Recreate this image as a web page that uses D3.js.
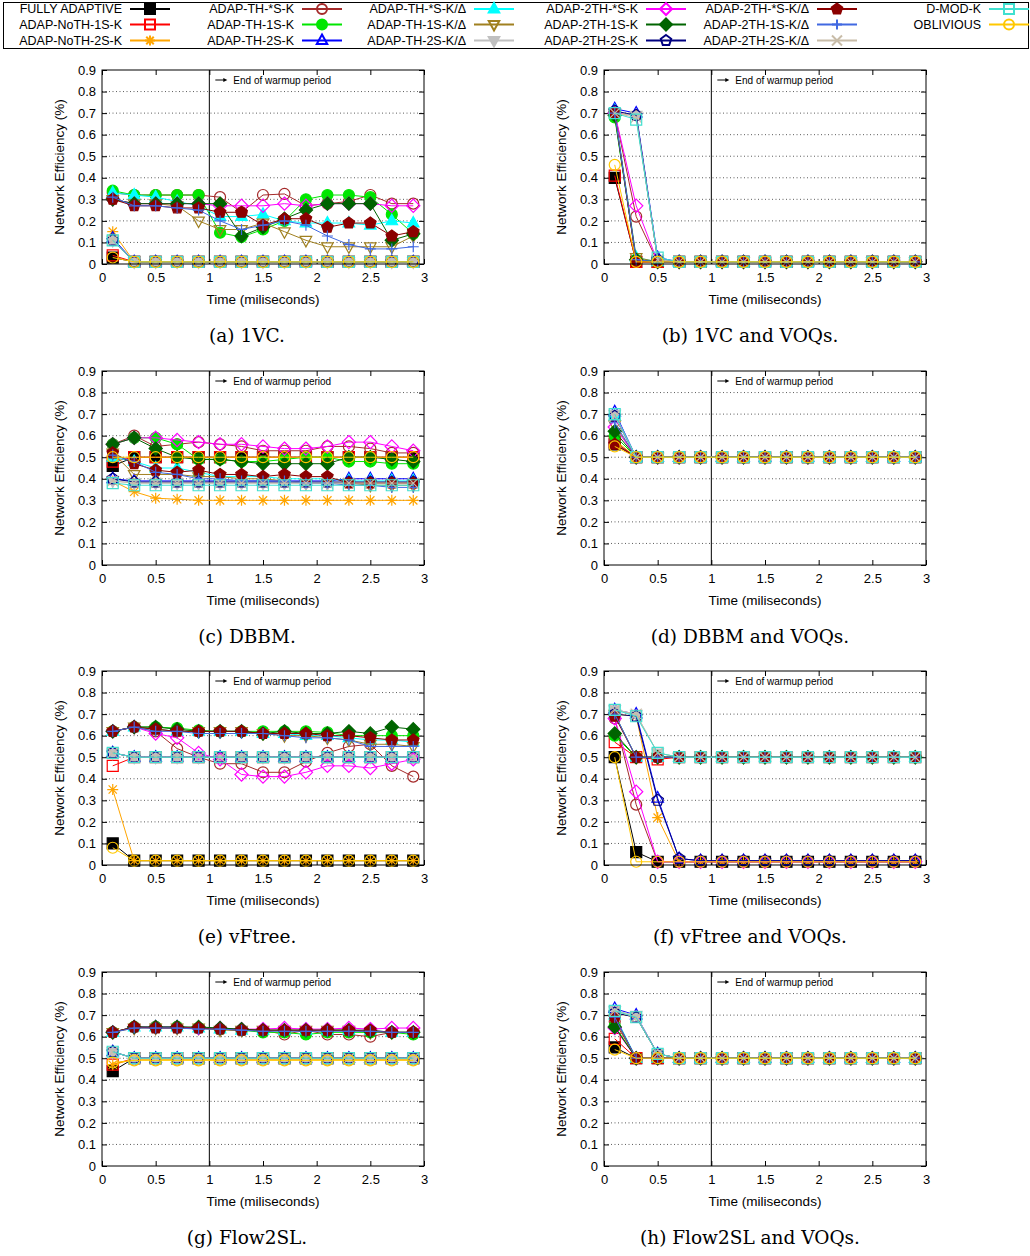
<!DOCTYPE html>
<html>
<head>
<meta charset="utf-8">
<script src="https://cdn.jsdelivr.net/npm/d3@7"></script>
<style>
body { margin: 0; background: #fff; }
</style>
</head>
<body>
<script>
// sample times (ms)
var time = [0.1, 0.3, 0.5, 0.7, 0.9, 1.1, 1.3, 1.5, 1.7, 1.9, 2.1, 2.3, 2.5, 2.7, 2.9];
var xTicks = [0, 0.5, 1, 1.5, 2, 2.5, 3];
var yTicks = [0, 0.1, 0.2, 0.3, 0.4, 0.5, 0.6, 0.7, 0.8, 0.9];

var names = ["FULLY ADAPTIVE", "ADAP-NoTH-1S-K", "ADAP-NoTH-2S-K",
    "ADAP-TH-*S-K", "ADAP-TH-1S-K", "ADAP-TH-2S-K",
    "ADAP-TH-*S-K/\u0394", "ADAP-TH-1S-K/\u0394", "ADAP-TH-2S-K/\u0394",
    "ADAP-2TH-*S-K", "ADAP-2TH-1S-K", "ADAP-2TH-2S-K",
    "ADAP-2TH-*S-K/\u0394", "ADAP-2TH-1S-K/\u0394", "ADAP-2TH-2S-K/\u0394",
    "D-MOD-K", "OBLIVIOUS"];

var captions = ["(a) 1VC.", "(b) 1VC and VOQs.", "(c) DBBM.", "(d) DBBM and VOQs.",
    "(e) vFtree.", "(f) vFtree and VOQs.", "(g) Flow2SL.", "(h) Flow2SL and VOQs."];

// efficiency values, one row per series (same order as names)
var vc1 = [
    [0.03,0.01,0.01,0.01,0.01,0.01,0.01,0.01,0.01,0.01,0.01,0.01,0.01,0.01,0.01],
    [0.04,0.01,0.01,0.01,0.01,0.01,0.01,0.01,0.01,0.01,0.01,0.01,0.01,0.01,0.01],
    [0.15,0.01,0.01,0.01,0.01,0.01,0.01,0.01,0.01,0.01,0.01,0.01,0.01,0.01,0.01],
    [0.33,0.32,0.32,0.32,0.32,0.31,0.24,0.32,0.325,0.27,0.28,0.29,0.32,0.28,0.28],
    [0.34,0.32,0.32,0.32,0.32,0.145,0.125,0.16,0.20,0.30,0.32,0.32,0.31,0.23,0.14],
    [0.12,0.01,0.01,0.01,0.01,0.01,0.01,0.01,0.01,0.01,0.01,0.01,0.01,0.01,0.01],
    [0.33,0.32,0.31,0.29,0.27,0.22,0.22,0.23,0.20,0.19,0.19,0.19,0.18,0.20,0.19],
    [0.30,0.28,0.28,0.27,0.20,0.16,0.16,0.19,0.15,0.11,0.08,0.08,0.08,0.08,0.13],
    [0.11,0.01,0.01,0.01,0.01,0.01,0.01,0.01,0.01,0.01,0.01,0.01,0.01,0.01,0.01],
    [0.30,0.28,0.28,0.28,0.28,0.27,0.27,0.27,0.28,0.27,0.28,0.28,0.28,0.27,0.27],
    [0.30,0.28,0.28,0.28,0.28,0.28,0.13,0.17,0.21,0.25,0.28,0.28,0.28,0.11,0.14],
    [0.11,0.01,0.01,0.01,0.01,0.01,0.01,0.01,0.01,0.01,0.01,0.01,0.01,0.01,0.01],
    [0.30,0.27,0.27,0.26,0.26,0.24,0.24,0.18,0.21,0.21,0.17,0.19,0.19,0.13,0.15],
    [0.31,0.27,0.27,0.26,0.25,0.20,0.16,0.18,0.20,0.18,0.13,0.09,0.07,0.07,0.08],
    [0.11,0.01,0.01,0.01,0.01,0.01,0.01,0.01,0.01,0.01,0.01,0.01,0.01,0.01,0.01],
    [0.11,0.01,0.01,0.01,0.01,0.01,0.01,0.01,0.01,0.01,0.01,0.01,0.01,0.01,0.01],
    [0.03,0.01,0.01,0.01,0.01,0.01,0.01,0.01,0.01,0.01,0.01,0.01,0.01,0.01,0.01]
];
var vc1Voq = [
    [0.40,0.01,0.01,0.01,0.01,0.01,0.01,0.01,0.01,0.01,0.01,0.01,0.01,0.01,0.01],
    [0.41,0.01,0.01,0.01,0.01,0.01,0.01,0.01,0.01,0.01,0.01,0.01,0.01,0.01,0.01],
    [0.70,0.69,0.02,0.01,0.01,0.01,0.01,0.01,0.01,0.01,0.01,0.01,0.01,0.01,0.01],
    [0.70,0.22,0.01,0.01,0.01,0.01,0.01,0.01,0.01,0.01,0.01,0.01,0.01,0.01,0.01],
    [0.68,0.02,0.01,0.01,0.01,0.01,0.01,0.01,0.01,0.01,0.01,0.01,0.01,0.01,0.01],
    [0.72,0.70,0.03,0.01,0.01,0.01,0.01,0.01,0.01,0.01,0.01,0.01,0.01,0.01,0.01],
    [0.71,0.03,0.01,0.01,0.01,0.01,0.01,0.01,0.01,0.01,0.01,0.01,0.01,0.01,0.01],
    [0.70,0.03,0.01,0.01,0.01,0.01,0.01,0.01,0.01,0.01,0.01,0.01,0.01,0.01,0.01],
    [0.70,0.69,0.02,0.01,0.01,0.01,0.01,0.01,0.01,0.01,0.01,0.01,0.01,0.01,0.01],
    [0.70,0.27,0.01,0.01,0.01,0.01,0.01,0.01,0.01,0.01,0.01,0.01,0.01,0.01,0.01],
    [0.69,0.02,0.01,0.01,0.01,0.01,0.01,0.01,0.01,0.01,0.01,0.01,0.01,0.01,0.01],
    [0.71,0.69,0.02,0.01,0.01,0.01,0.01,0.01,0.01,0.01,0.01,0.01,0.01,0.01,0.01],
    [0.70,0.01,0.01,0.01,0.01,0.01,0.01,0.01,0.01,0.01,0.01,0.01,0.01,0.01,0.01],
    [0.70,0.02,0.01,0.01,0.01,0.01,0.01,0.01,0.01,0.01,0.01,0.01,0.01,0.01,0.01],
    [0.70,0.68,0.02,0.01,0.01,0.01,0.01,0.01,0.01,0.01,0.01,0.01,0.01,0.01,0.01],
    [0.70,0.67,0.03,0.01,0.01,0.01,0.01,0.01,0.01,0.01,0.01,0.01,0.01,0.01,0.01],
    [0.46,0.01,0.01,0.01,0.01,0.01,0.01,0.01,0.01,0.01,0.01,0.01,0.01,0.01,0.01]
];
var dbbm = [
    [0.46,0.50,0.50,0.50,0.50,0.50,0.50,0.50,0.50,0.50,0.50,0.50,0.50,0.50,0.50],
    [0.48,0.50,0.50,0.50,0.50,0.50,0.50,0.50,0.50,0.50,0.50,0.50,0.50,0.50,0.50],
    [0.39,0.34,0.31,0.305,0.30,0.30,0.30,0.30,0.30,0.30,0.30,0.30,0.30,0.30,0.30],
    [0.56,0.60,0.55,0.56,0.57,0.56,0.55,0.53,0.53,0.53,0.55,0.55,0.54,0.52,0.52],
    [0.56,0.59,0.59,0.56,0.49,0.49,0.48,0.48,0.49,0.50,0.50,0.48,0.48,0.47,0.47],
    [0.40,0.39,0.39,0.39,0.39,0.39,0.39,0.39,0.39,0.39,0.39,0.40,0.40,0.40,0.40],
    [0.50,0.48,0.45,0.45,0.43,0.41,0.41,0.41,0.40,0.40,0.40,0.39,0.39,0.39,0.39],
    [0.52,0.42,0.42,0.42,0.41,0.41,0.40,0.40,0.39,0.38,0.38,0.38,0.37,0.37,0.37],
    [0.39,0.38,0.38,0.38,0.38,0.38,0.38,0.38,0.38,0.38,0.38,0.38,0.38,0.38,0.38],
    [0.56,0.59,0.59,0.58,0.57,0.56,0.56,0.55,0.54,0.54,0.55,0.57,0.57,0.55,0.53],
    [0.56,0.59,0.54,0.50,0.49,0.49,0.48,0.47,0.47,0.47,0.47,0.50,0.50,0.49,0.48],
    [0.40,0.385,0.385,0.385,0.385,0.385,0.385,0.385,0.385,0.385,0.385,0.385,0.385,0.385,0.385],
    [0.52,0.47,0.44,0.43,0.44,0.42,0.42,0.41,0.42,0.41,0.41,0.38,0.38,0.38,0.38],
    [0.51,0.48,0.43,0.42,0.40,0.40,0.39,0.39,0.39,0.38,0.38,0.37,0.37,0.36,0.36],
    [0.39,0.38,0.38,0.38,0.38,0.38,0.38,0.38,0.38,0.38,0.38,0.38,0.38,0.38,0.38],
    [0.38,0.37,0.37,0.37,0.37,0.37,0.37,0.37,0.37,0.37,0.37,0.37,0.37,0.37,0.37],
    [0.50,0.50,0.50,0.50,0.50,0.50,0.50,0.50,0.50,0.50,0.50,0.50,0.50,0.50,0.50]
];
var dbbmVoq = [
    [0.56,0.50,0.50,0.50,0.50,0.50,0.50,0.50,0.50,0.50,0.50,0.50,0.50,0.50,0.50],
    [0.57,0.50,0.50,0.50,0.50,0.50,0.50,0.50,0.50,0.50,0.50,0.50,0.50,0.50,0.50],
    [0.58,0.50,0.50,0.50,0.50,0.50,0.50,0.50,0.50,0.50,0.50,0.50,0.50,0.50,0.50],
    [0.57,0.50,0.50,0.50,0.50,0.50,0.50,0.50,0.50,0.50,0.50,0.50,0.50,0.50,0.50],
    [0.60,0.50,0.50,0.50,0.50,0.50,0.50,0.50,0.50,0.50,0.50,0.50,0.50,0.50,0.50],
    [0.71,0.50,0.50,0.50,0.50,0.50,0.50,0.50,0.50,0.50,0.50,0.50,0.50,0.50,0.50],
    [0.69,0.50,0.50,0.50,0.50,0.50,0.50,0.50,0.50,0.50,0.50,0.50,0.50,0.50,0.50],
    [0.65,0.50,0.50,0.50,0.50,0.50,0.50,0.50,0.50,0.50,0.50,0.50,0.50,0.50,0.50],
    [0.70,0.50,0.50,0.50,0.50,0.50,0.50,0.50,0.50,0.50,0.50,0.50,0.50,0.50,0.50],
    [0.64,0.50,0.50,0.50,0.50,0.50,0.50,0.50,0.50,0.50,0.50,0.50,0.50,0.50,0.50],
    [0.62,0.50,0.50,0.50,0.50,0.50,0.50,0.50,0.50,0.50,0.50,0.50,0.50,0.50,0.50],
    [0.69,0.50,0.50,0.50,0.50,0.50,0.50,0.50,0.50,0.50,0.50,0.50,0.50,0.50,0.50],
    [0.56,0.50,0.50,0.50,0.50,0.50,0.50,0.50,0.50,0.50,0.50,0.50,0.50,0.50,0.50],
    [0.66,0.50,0.50,0.50,0.50,0.50,0.50,0.50,0.50,0.50,0.50,0.50,0.50,0.50,0.50],
    [0.69,0.50,0.50,0.50,0.50,0.50,0.50,0.50,0.50,0.50,0.50,0.50,0.50,0.50,0.50],
    [0.70,0.50,0.50,0.50,0.50,0.50,0.50,0.50,0.50,0.50,0.50,0.50,0.50,0.50,0.50],
    [0.55,0.50,0.50,0.50,0.50,0.50,0.50,0.50,0.50,0.50,0.50,0.50,0.50,0.50,0.50]
];
var vftree = [
    [0.10,0.02,0.02,0.02,0.02,0.02,0.02,0.02,0.02,0.02,0.02,0.02,0.02,0.02,0.02],
    [0.46,0.50,0.50,0.50,0.50,0.50,0.50,0.50,0.50,0.50,0.50,0.50,0.50,0.50,0.50],
    [0.35,0.02,0.02,0.02,0.02,0.02,0.02,0.02,0.02,0.02,0.02,0.02,0.02,0.02,0.02],
    [0.62,0.64,0.62,0.54,0.50,0.47,0.47,0.43,0.43,0.48,0.52,0.55,0.56,0.46,0.41],
    [0.62,0.64,0.64,0.635,0.625,0.62,0.62,0.62,0.62,0.62,0.615,0.60,0.60,0.60,0.60],
    [0.52,0.50,0.50,0.50,0.50,0.50,0.50,0.50,0.50,0.50,0.50,0.50,0.50,0.50,0.50],
    [0.62,0.64,0.63,0.62,0.62,0.62,0.62,0.61,0.61,0.60,0.60,0.59,0.58,0.58,0.57],
    [0.62,0.64,0.63,0.62,0.62,0.62,0.62,0.61,0.60,0.60,0.59,0.58,0.56,0.56,0.55],
    [0.52,0.50,0.50,0.50,0.50,0.50,0.50,0.50,0.50,0.50,0.50,0.50,0.50,0.50,0.50],
    [0.62,0.64,0.61,0.59,0.52,0.49,0.42,0.41,0.41,0.43,0.46,0.46,0.45,0.47,0.49],
    [0.62,0.64,0.64,0.63,0.62,0.62,0.62,0.61,0.62,0.61,0.61,0.62,0.61,0.64,0.63],
    [0.52,0.50,0.50,0.50,0.50,0.50,0.50,0.50,0.50,0.50,0.50,0.50,0.50,0.50,0.50],
    [0.62,0.64,0.63,0.62,0.62,0.62,0.62,0.61,0.61,0.61,0.60,0.60,0.59,0.58,0.58],
    [0.62,0.64,0.62,0.62,0.61,0.61,0.61,0.61,0.60,0.59,0.59,0.58,0.55,0.55,0.55],
    [0.52,0.50,0.50,0.50,0.50,0.50,0.50,0.50,0.50,0.50,0.50,0.50,0.50,0.50,0.50],
    [0.52,0.50,0.50,0.50,0.50,0.50,0.50,0.50,0.50,0.50,0.50,0.50,0.50,0.50,0.50],
    [0.08,0.02,0.02,0.02,0.02,0.02,0.02,0.02,0.02,0.02,0.02,0.02,0.02,0.02,0.02]
];
var vftreeVoq = [
    [0.50,0.06,0.015,0.015,0.015,0.015,0.015,0.015,0.015,0.015,0.015,0.015,0.015,0.015,0.015],
    [0.57,0.50,0.49,0.50,0.50,0.50,0.50,0.50,0.50,0.50,0.50,0.50,0.50,0.50,0.50],
    [0.70,0.69,0.22,0.015,0.015,0.015,0.015,0.015,0.015,0.015,0.015,0.015,0.015,0.015,0.015],
    [0.68,0.28,0.015,0.015,0.015,0.015,0.015,0.015,0.015,0.015,0.015,0.015,0.015,0.015,0.015],
    [0.60,0.50,0.50,0.50,0.50,0.50,0.50,0.50,0.50,0.50,0.50,0.50,0.50,0.50,0.50],
    [0.72,0.70,0.31,0.03,0.02,0.02,0.02,0.02,0.02,0.02,0.02,0.02,0.02,0.02,0.02],
    [0.70,0.50,0.50,0.50,0.50,0.50,0.50,0.50,0.50,0.50,0.50,0.50,0.50,0.50,0.50],
    [0.70,0.50,0.50,0.50,0.50,0.50,0.50,0.50,0.50,0.50,0.50,0.50,0.50,0.50,0.50],
    [0.72,0.70,0.52,0.50,0.50,0.50,0.50,0.50,0.50,0.50,0.50,0.50,0.50,0.50,0.50],
    [0.68,0.34,0.015,0.015,0.015,0.015,0.015,0.015,0.015,0.015,0.015,0.015,0.015,0.015,0.015],
    [0.61,0.50,0.50,0.50,0.50,0.50,0.50,0.50,0.50,0.50,0.50,0.50,0.50,0.50,0.50],
    [0.70,0.69,0.30,0.03,0.02,0.02,0.02,0.02,0.02,0.02,0.02,0.02,0.02,0.02,0.02],
    [0.69,0.50,0.50,0.50,0.50,0.50,0.50,0.50,0.50,0.50,0.50,0.50,0.50,0.50,0.50],
    [0.70,0.50,0.50,0.50,0.50,0.50,0.50,0.50,0.50,0.50,0.50,0.50,0.50,0.50,0.50],
    [0.72,0.70,0.52,0.50,0.50,0.50,0.50,0.50,0.50,0.50,0.50,0.50,0.50,0.50,0.50],
    [0.72,0.69,0.52,0.50,0.50,0.50,0.50,0.50,0.50,0.50,0.50,0.50,0.50,0.50,0.50],
    [0.50,0.015,0.015,0.015,0.015,0.015,0.015,0.015,0.015,0.015,0.015,0.015,0.015,0.015,0.015]
];
var flow2sl = [
    [0.44,0.50,0.50,0.50,0.50,0.50,0.50,0.50,0.50,0.50,0.50,0.50,0.50,0.50,0.50],
    [0.47,0.50,0.50,0.50,0.50,0.50,0.50,0.50,0.50,0.50,0.50,0.50,0.50,0.50,0.50],
    [0.47,0.495,0.495,0.495,0.495,0.495,0.495,0.495,0.495,0.495,0.495,0.495,0.495,0.495,0.495],
    [0.62,0.645,0.645,0.645,0.64,0.635,0.63,0.63,0.61,0.63,0.61,0.61,0.60,0.62,0.62],
    [0.62,0.645,0.645,0.645,0.64,0.635,0.63,0.62,0.62,0.61,0.62,0.62,0.62,0.62,0.61],
    [0.53,0.50,0.50,0.50,0.50,0.50,0.50,0.50,0.50,0.50,0.50,0.50,0.50,0.50,0.50],
    [0.62,0.645,0.645,0.645,0.64,0.635,0.63,0.63,0.63,0.63,0.63,0.63,0.63,0.62,0.62],
    [0.62,0.64,0.64,0.64,0.64,0.63,0.63,0.63,0.63,0.63,0.63,0.63,0.62,0.62,0.62],
    [0.53,0.50,0.50,0.50,0.50,0.50,0.50,0.50,0.50,0.50,0.50,0.50,0.50,0.50,0.50],
    [0.62,0.645,0.645,0.645,0.64,0.64,0.635,0.635,0.64,0.635,0.635,0.64,0.635,0.64,0.64],
    [0.62,0.645,0.645,0.645,0.645,0.64,0.635,0.63,0.63,0.63,0.63,0.63,0.625,0.62,0.62],
    [0.53,0.50,0.50,0.50,0.50,0.50,0.50,0.50,0.50,0.50,0.50,0.50,0.50,0.50,0.50],
    [0.62,0.645,0.64,0.64,0.64,0.635,0.63,0.63,0.63,0.63,0.63,0.63,0.63,0.62,0.62],
    [0.62,0.64,0.64,0.64,0.635,0.635,0.63,0.625,0.625,0.625,0.625,0.625,0.625,0.62,0.62],
    [0.53,0.50,0.50,0.50,0.50,0.50,0.50,0.50,0.50,0.50,0.50,0.50,0.50,0.50,0.50],
    [0.53,0.50,0.50,0.50,0.50,0.50,0.50,0.50,0.50,0.50,0.50,0.50,0.50,0.50,0.50],
    [0.48,0.49,0.49,0.49,0.49,0.49,0.49,0.49,0.49,0.49,0.49,0.49,0.49,0.49,0.49]
];
var flow2slVoq = [
    [0.55,0.50,0.50,0.50,0.50,0.50,0.50,0.50,0.50,0.50,0.50,0.50,0.50,0.50,0.50],
    [0.59,0.50,0.50,0.50,0.50,0.50,0.50,0.50,0.50,0.50,0.50,0.50,0.50,0.50,0.50],
    [0.71,0.69,0.52,0.50,0.50,0.50,0.50,0.50,0.50,0.50,0.50,0.50,0.50,0.50,0.50],
    [0.67,0.50,0.50,0.50,0.50,0.50,0.50,0.50,0.50,0.50,0.50,0.50,0.50,0.50,0.50],
    [0.65,0.50,0.50,0.50,0.50,0.50,0.50,0.50,0.50,0.50,0.50,0.50,0.50,0.50,0.50],
    [0.73,0.70,0.52,0.50,0.50,0.50,0.50,0.50,0.50,0.50,0.50,0.50,0.50,0.50,0.50],
    [0.70,0.50,0.50,0.50,0.50,0.50,0.50,0.50,0.50,0.50,0.50,0.50,0.50,0.50,0.50],
    [0.68,0.50,0.50,0.50,0.50,0.50,0.50,0.50,0.50,0.50,0.50,0.50,0.50,0.50,0.50],
    [0.72,0.70,0.52,0.50,0.50,0.50,0.50,0.50,0.50,0.50,0.50,0.50,0.50,0.50,0.50],
    [0.64,0.50,0.50,0.50,0.50,0.50,0.50,0.50,0.50,0.50,0.50,0.50,0.50,0.50,0.50],
    [0.645,0.50,0.50,0.50,0.50,0.50,0.50,0.50,0.50,0.50,0.50,0.50,0.50,0.50,0.50],
    [0.71,0.69,0.52,0.50,0.50,0.50,0.50,0.50,0.50,0.50,0.50,0.50,0.50,0.50,0.50],
    [0.69,0.50,0.50,0.50,0.50,0.50,0.50,0.50,0.50,0.50,0.50,0.50,0.50,0.50,0.50],
    [0.69,0.50,0.50,0.50,0.50,0.50,0.50,0.50,0.50,0.50,0.50,0.50,0.50,0.50,0.50],
    [0.72,0.69,0.52,0.50,0.50,0.50,0.50,0.50,0.50,0.50,0.50,0.50,0.50,0.50,0.50],
    [0.72,0.69,0.52,0.50,0.50,0.50,0.50,0.50,0.50,0.50,0.50,0.50,0.50,0.50,0.50],
    [0.54,0.50,0.50,0.50,0.50,0.50,0.50,0.50,0.50,0.50,0.50,0.50,0.50,0.50,0.50]
];

var panels = [vc1, vc1Voq, dbbm, dbbmVoq, vftree, vftreeVoq, flow2sl, flow2slVoq];

// styling
var colors = ["#000000", "#ff0000", "#ffa500", "#a52a2a", "#00e600", "#0000ff",
    "#00ffff", "#a08020", "#c0c0c0", "#ff00ff", "#006400", "#000080",
    "#8b0000", "#4169e1", "#c8bca8", "#40e0d0", "#ffc800"];
var markers = ["sqf", "sq", "ast", "circ", "circf", "tri",
    "trif", "itri", "itrif", "dia", "diaf", "pent",
    "pentf", "plus", "cross", "sq", "circ"];

var width = 1030, height = 1256;
var colX = [102, 604];
var rowY = [70, 371, 671, 972];
var plotW = 322, plotH = 194;
var captionX = [247, 750];
var font = "'Liberation Sans', Arial, sans-serif";

var svg = d3.select("body").append("svg")
    .attr("width", width)
    .attr("height", height)
    .style("display", "block");

function markerPath(type, h) {
    var p = d3.path();
    var i, a;
    if (type == "sq" || type == "sqf") {
        p.rect(-h, -h, 2 * h, 2 * h);
    } else if (type == "circ" || type == "circf") {
        p.moveTo(h, 0);
        p.arc(0, 0, h, 0, 2 * Math.PI);
    } else if (type == "tri" || type == "trif") {
        p.moveTo(0, -h * 1.2);
        p.lineTo(h * 1.05, h * 0.7);
        p.lineTo(-h * 1.05, h * 0.7);
        p.closePath();
    } else if (type == "itri" || type == "itrif") {
        p.moveTo(0, h * 1.2);
        p.lineTo(h * 1.05, -h * 0.7);
        p.lineTo(-h * 1.05, -h * 0.7);
        p.closePath();
    } else if (type == "dia" || type == "diaf") {
        p.moveTo(0, -h * 1.2);
        p.lineTo(h * 1.2, 0);
        p.lineTo(0, h * 1.2);
        p.lineTo(-h * 1.2, 0);
        p.closePath();
    } else if (type == "pent" || type == "pentf") {
        for (i = 0; i < 5; ++i) {
            a = -Math.PI / 2 + i * 2 * Math.PI / 5;
            if (i == 0) p.moveTo(h * 1.1 * Math.cos(a), h * 1.1 * Math.sin(a));
            else p.lineTo(h * 1.1 * Math.cos(a), h * 1.1 * Math.sin(a));
        }
        p.closePath();
    } else if (type == "plus") {
        p.moveTo(-h, 0); p.lineTo(h, 0);
        p.moveTo(0, -h); p.lineTo(0, h);
    } else if (type == "cross") {
        p.moveTo(-h, -h); p.lineTo(h, h);
        p.moveTo(-h, h); p.lineTo(h, -h);
    } else if (type == "ast") {
        p.moveTo(-h, 0); p.lineTo(h, 0);
        p.moveTo(0, -h); p.lineTo(0, h);
        p.moveTo(-h * 0.75, -h * 0.75); p.lineTo(h * 0.75, h * 0.75);
        p.moveTo(-h * 0.75, h * 0.75); p.lineTo(h * 0.75, -h * 0.75);
    }
    return p.toString();
}

function isFilled(type) {
    return type.charAt(type.length - 1) == "f";
}

function drawMarkers(g, pts, k, h, sw) {
    var type = markers[k];
    g.selectAll(null)
        .data(pts)
        .enter()
        .append("path")
        .attr("transform", function(d) { return "translate(" + d[0] + "," + d[1] + ")"; })
        .attr("d", markerPath(type, h))
        .attr("fill", isFilled(type) ? colors[k] : "none")
        .attr("stroke", colors[k])
        .attr("stroke-width", sw);
}

function drawPanel(data, px, py, caption, capX) {
    var g = svg.append("g");
    var x = d3.scaleLinear().domain([0, 3]).range([px, px + plotW]);
    var y = d3.scaleLinear().domain([0, 0.9]).range([py + plotH, py]);

    // dotted grid
    g.append("g").selectAll("line")
        .data(yTicks.slice(1, 9))
        .enter()
        .append("line")
        .attr("x1", px).attr("x2", px + plotW)
        .attr("y1", function(d) { return y(d); })
        .attr("y2", function(d) { return y(d); })
        .attr("stroke", "#333")
        .attr("stroke-width", 0.8)
        .attr("stroke-dasharray", "1,2.5");

    var fmt = function(d) { return String(d); };
    var axes = [
        [d3.axisBottom(x).tickValues(xTicks).tickSize(-5).tickPadding(9).tickFormat(fmt), "translate(0," + (py + plotH) + ")"],
        [d3.axisLeft(y).tickValues(yTicks).tickSize(-5).tickPadding(6).tickFormat(fmt), "translate(" + px + ",0)"],
        [d3.axisTop(x).tickValues(xTicks).tickSize(-5).tickFormat(""), "translate(0," + py + ")"],
        [d3.axisRight(y).tickValues(yTicks).tickSize(-5).tickFormat(""), "translate(" + (px + plotW) + ",0)"]
    ];
    axes.forEach(function(a) {
        var ag = g.append("g").attr("transform", a[1]).call(a[0]);
        ag.select(".domain").remove();
        ag.selectAll("text").attr("font-family", font).attr("font-size", "13px").attr("fill", "#000");
        ag.selectAll("line").attr("stroke", "#000");
    });

    // end of warmup marker
    g.append("line")
        .attr("x1", x(1)).attr("x2", x(1))
        .attr("y1", py).attr("y2", py + plotH)
        .attr("stroke", "#000").attr("stroke-width", 1);
    g.append("line")
        .attr("x1", x(1) + 6).attr("x2", x(1) + 15)
        .attr("y1", py + 10).attr("y2", py + 10)
        .attr("stroke", "#000").attr("stroke-width", 1);
    g.append("path")
        .attr("d", "M" + (x(1) + 18) + "," + (py + 10) + "l-4,-2v4z")
        .attr("fill", "#000");
    g.append("text")
        .attr("x", x(1) + 24).attr("y", py + 10)
        .attr("dy", "0.35em")
        .attr("font-family", font).attr("font-size", "10px")
        .text("End of warmup period");

    // series
    var line = d3.line()
        .x(function(d) { return d[0]; })
        .y(function(d) { return d[1]; });
    data.forEach(function(vals, k) {
        var pts = vals.map(function(v, i) { return [x(time[i]), y(v)]; });
        g.append("path")
            .attr("d", line(pts))
            .attr("fill", "none")
            .attr("stroke", colors[k])
            .attr("stroke-width", 1);
        drawMarkers(g, pts, k, 5.5, 1.2);
    });

    // frame
    g.append("rect")
        .attr("x", px).attr("y", py)
        .attr("width", plotW).attr("height", plotH)
        .attr("fill", "none").attr("stroke", "#000").attr("stroke-width", 1);

    // titles
    g.append("text")
        .attr("x", px + plotW / 2).attr("y", py + plotH + 40)
        .attr("text-anchor", "middle")
        .attr("font-family", font).attr("font-size", "13.5px")
        .text("Time (miliseconds)");
    g.append("text")
        .attr("transform", "translate(" + (px - 38) + "," + (py + plotH / 2) + ") rotate(-90)")
        .attr("text-anchor", "middle")
        .attr("font-family", font).attr("font-size", "13.5px")
        .text("Network Efficiency (%)");
    g.append("text")
        .attr("x", capX).attr("y", py + plotH + 78)
        .attr("text-anchor", "middle")
        .attr("font-family", "'DejaVu Serif', serif").attr("font-size", "18.5px")
        .text(caption);
}

panels.forEach(function(data, i) {
    drawPanel(data, colX[i % 2], rowY[Math.floor(i / 2)], captions[i], captionX[i % 2]);
});

// legend
var legTextRight = [122, 294, 466, 638, 809, 981];
var legRowY = [9, 24.5, 40.5];
var leg = svg.append("g");
leg.append("rect")
    .attr("x", 3.5).attr("y", 2.5)
    .attr("width", 1025).attr("height", 46)
    .attr("fill", "none").attr("stroke", "#000").attr("stroke-width", 1);
names.forEach(function(name, k) {
    var tx = legTextRight[Math.floor(k / 3)];
    var ty = legRowY[k % 3];
    leg.append("text")
        .attr("x", tx).attr("y", ty)
        .attr("dy", "0.35em")
        .attr("text-anchor", "end")
        .attr("font-family", font).attr("font-size", "12.5px")
        .text(name);
    leg.append("line")
        .attr("x1", tx + 8).attr("x2", tx + 48)
        .attr("y1", ty).attr("y2", ty)
        .attr("stroke", colors[k]).attr("stroke-width", 2.2);
    drawMarkers(leg, [[tx + 28, ty]], k, 5, 2);
});
</script>
</body>
</html>
